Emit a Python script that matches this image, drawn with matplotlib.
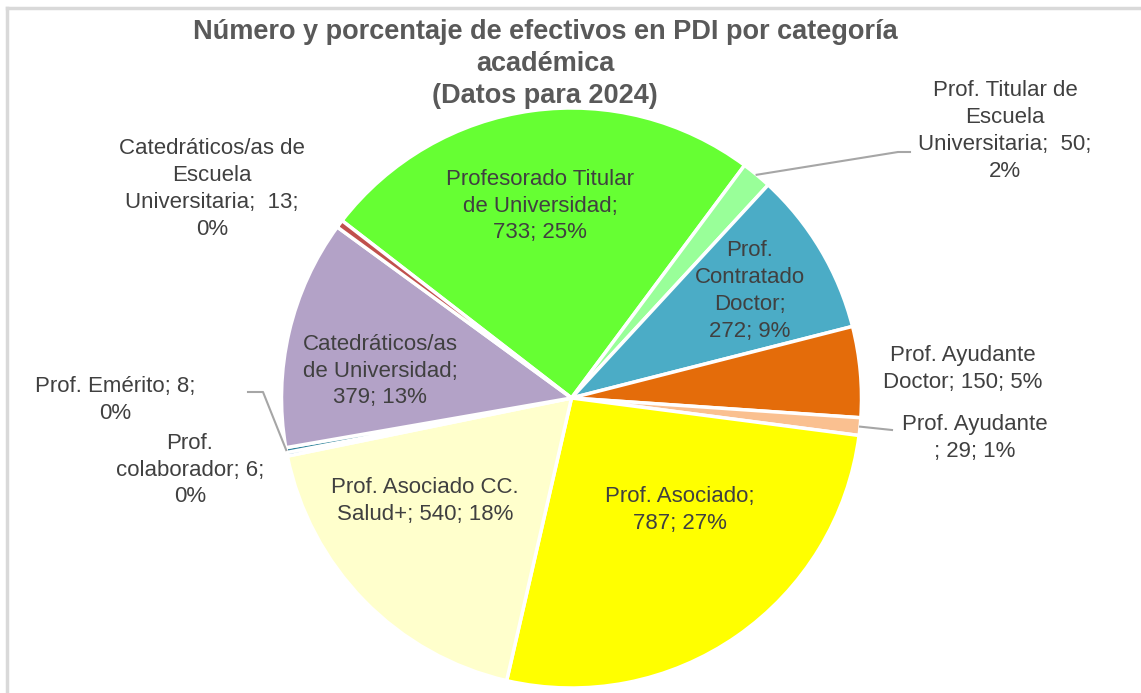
import numpy as np
import matplotlib
matplotlib.use("Agg")
import matplotlib.pyplot as plt
from matplotlib.lines import Line2D

# categories in clockwise order, starting with Profesorado Titular
labels = [
    'Profesorado Titular\nde Universidad;\n733; 25%',
    'Prof. Titular de\nEscuela\nUniversitaria;  50;\n2%',
    'Prof.\nContratado\nDoctor;\n272; 9%',
    'Prof. Ayudante\nDoctor; 150; 5%',
    'Prof. Ayudante\n; 29; 1%',
    'Prof. Asociado;\n787; 27%',
    'Prof. Asociado CC.\nSalud+; 540; 18%',
    'Prof.\ncolaborador; 6;\n0%',
    'Prof. Emérito; 8;\n0%',
    'Catedráticos/as\nde Universidad;\n379; 13%',
    'Catedráticos/as de\nEscuela\nUniversitaria;  13;\n0%',
]
values = [733, 50, 272, 150, 29, 787, 540, 6, 8, 379, 13]
colors = ['#66FF33', '#99FF99', '#4BACC6', '#E46C0A', '#FAC090', '#FFFF00',
          '#FFFFCC', '#1F77B4', '#31859C', '#B3A2C7', '#C0504D']

W, H = 1141, 693
cx, cy, R = 571.5, 398, 290
start_angle = 142.3

plt.rcParams['font.family'] = ['Liberation Sans', 'DejaVu Sans']
txt_color = '#404040'

fig = plt.figure(figsize=(W / 100, H / 100), dpi=100)
ax = fig.add_axes([0, 0, 1, 1])


def px(x, y):
    return (x - cx) / R, (cy - y) / R


wedges, _ = ax.pie(values, colors=colors, startangle=start_angle, counterclock=False,
                   radius=1, center=(0, 0), frame=True,
                   wedgeprops=dict(edgecolor='white', linewidth=2.5))
ax.set_xlim(-cx / R, (W - cx) / R)
ax.set_ylim(-(H - cy) / R, cy / R)
ax.set_aspect('equal')
ax.axis('off')

# label centres (pixels) and leader line elbows
label_pos = [
    (540, 206), (1005, 131), (750, 291), (963, 369), (975, 438),
    (680, 510), (425, 501), (190, 470), (115, 400), (380, 371), (212, 189),
]
leaders = {1: [(898, 152), (910, 152)], 4: [(892, 430)], 8: [(263, 392), (248, 392)]}

for i, (w, lab) in enumerate(zip(wedges, labels)):
    x, y = px(*label_pos[i])
    ax.text(x, y, lab, ha='center', va='center', fontsize=16, color=txt_color,
            linespacing=1.37)
    if i in leaders:
        mid = np.deg2rad((w.theta1 + w.theta2) / 2)
        pts = [(np.cos(mid) * 1.0, np.sin(mid) * 1.0)] + [px(*p) for p in leaders[i]]
        xs, ys = zip(*pts)
        ax.plot(xs, ys, color='#A6A6A6', lw=1.5)

fig.text(545 / W, 1 - 64 / H,
         'Número y porcentaje de efectivos en PDI por categoría\nacadémica\n(Datos para 2024)',
         ha='center', va='center', fontsize=19.5, fontweight='bold', color='#595959',
         linespacing=1.32)

# chart border (top and left edges visible)
fig.add_artist(Line2D([7 / W, 1], [1 - 8 / H, 1 - 8 / H], color='#D9D9D9', lw=2.5))
fig.add_artist(Line2D([7 / W, 7 / W], [0, 1 - 8 / H], color='#D9D9D9', lw=2.5))

fig.savefig('out.png', dpi=100)
